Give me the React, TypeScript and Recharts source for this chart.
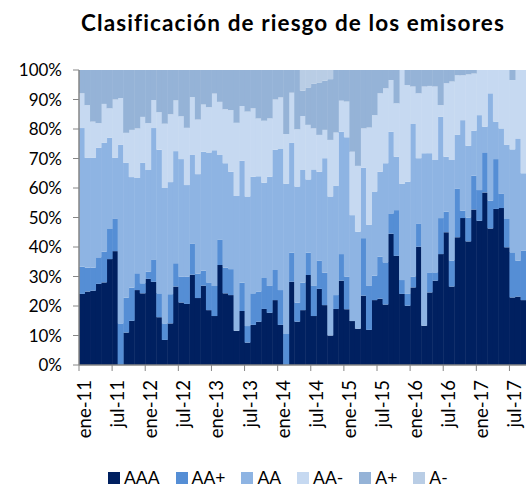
import { BarChart, Bar, XAxis, YAxis } from 'recharts'

const meses = ['ene', 'feb', 'mar', 'abr', 'may', 'jun', 'jul', 'ago', 'sep', 'oct', 'nov', 'dic']
const anios = ['11', '12', '13', '14', '15', '16', '17']
const fechas = anios.flatMap((a) => meses.map((m) => `${m}-${a}`)).slice(0, 81)

// participación (%) de cada calificación, mes a mes desde ene-11
const aaa = [
  24.1, 24.9, 25.2, 27.5, 28.0, 35.9, 38.6, 0, 11.0, 15.0, 25.4, 24.3,
  29.2, 28.2, 16.2, 8.5, 14.1, 26.6, 21.2, 20.7, 30.6, 22.7, 26.9, 18.6,
  16.6, 33.9, 24.3, 23.7, 11.6, 18.3, 7.6, 13.6, 14.7, 19.0, 17.7, 22.0,
  13.6, 0, 28.2, 14.7, 18.6, 30.5, 16.6, 25.8, 20.3, 10.0, 19.0, 28.6,
  18.9, 14.9, 12.3, 23.5, 11.9, 22.0, 22.5, 20.5, 44.5, 37.0, 24.1, 20.1,
  26.3, 40.1, 13.3, 24.6, 28.6, 37.6, 45.0, 26.6, 43.3, 49.8, 41.9, 52.7,
  48.9, 58.5, 46.3, 52.9, 53.2, 39.9, 22.9, 23.2, 22.0,
]
const aaPlus = [
  9.2, 8.1, 7.8, 9.0, 10.4, 10.2, 11.1, 14.1, 11.8, 11.2, 5.7, 3.4,
  2.4, 7.6, 8.1, 5.6, 9.9, 7.9, 8.7, 9.2, 10.6, 8.3, 5.1, 9.4,
  10.2, 8.5, 8.7, 8.8, 0, 9.6, 5.6, 10.7, 10.2, 10.5, 9.1, 10.2,
  11.8, 10.5, 9.9, 6.4, 9.3, 7.6, 10.2, 9.5, 11.0, 0, 4.7, 9.0,
  11.1, 0, 0, 19.5, 14.9, 8.3, 14.2, 14.3, 6.9, 15.5, 4.7, 4.0,
  3.7, 7.9, 0, 6.8, 2.8, 12.2, 7.0, 8.8, 16.4, 2.5, 8.1, 11.5,
  10.4, 13.6, 9.4, 16.9, 4.8, 9.6, 15.3, 12.2, 16.8,
]
const aa = [
  47.0, 37.2, 37.2, 37.1, 36.9, 30.9, 20.5, 60.5, 45.7, 37.5, 32.3, 40.8,
  34.5, 44.5, 48.7, 45.9, 38.0, 38.0, 39.9, 31.1, 30.0, 33.7, 40.3, 44.0,
  46.0, 28.8, 35.4, 33.0, 45.7, 41.3, 43.9, 39.5, 39.1, 32.3, 37.0, 40.8,
  48.0, 50.9, 37.3, 39.4, 38.2, 24.8, 39.5, 30.2, 38.8, 47.1, 37.0, 41.5,
  47.2, 35.9, 32.9, 23.9, 20.7, 28.5, 28.8, 33.6, 27.7, 18.1, 32.6, 38.0,
  51.7, 22.1, 58.5, 40.4, 38.1, 34.4, 18.6, 34.1, 18.3, 30.7, 24.3, 15.2,
  25.4, 8.7, 36.4, 12.7, 22.2, 25.1, 34.9, 41.4, 26.2,
]
const aaMinus = [
  11.8, 17.9, 12.3, 8.4, 13.2, 10.0, 19.8, 15.9, 10.2, 16.0, 16.8, 15.6,
  15.9, 9.5, 12.7, 21.8, 23.0, 17.2, 14.5, 19.4, 19.6, 18.5, 16.0, 15.4,
  19.2, 18.0, 18.3, 20.9, 24.8, 18.6, 28.8, 23.2, 19.6, 21.0, 19.8, 17.0,
  17.3, 16.9, 16.9, 19.4, 18.3, 18.5, 13.9, 12.5, 9.6, 19.2, 18.1, 10.5,
  12.1, 21.5, 22.3, 13.3, 33.0, 25.9, 26.6, 25.4, 17.5, 18.1, 38.6, 32.8,
  12.7, 22.0, 22.6, 22.8, 24.9, 3.9, 24.9, 26.6, 20.2, 15.2, 24.2, 19.4,
  15.3, 19.2, 7.9, 17.5, 19.8, 25.4, 23.5, 23.2, 35.0,
]
const aPlus = [
  7.9, 11.9, 17.5, 18.0, 11.5, 13.0, 10.0, 9.5, 21.3, 20.3, 19.8, 15.9,
  18.0, 10.2, 14.3, 18.2, 15.0, 10.3, 15.7, 19.6, 9.2, 16.8, 11.7, 12.6,
  8.0, 10.8, 13.3, 13.6, 17.9, 12.2, 14.1, 13.0, 16.4, 17.2, 16.4, 10.0,
  9.3, 21.7, 7.7, 20.1, 8.6, 12.7, 15.1, 17.8, 16.7, 20.6, 21.2, 10.4,
  10.7, 27.7, 32.5, 19.8, 19.5, 15.3, 7.9, 6.2, 3.4, 11.3, 0, 5.1,
  5.6, 7.9, 5.6, 5.4, 5.6, 11.9, 4.5, 3.9, 1.8, 1.8, 1.5, 1.2,
  0, 0, 0, 0, 0, 0, 3.4, 0, 0,
]
const aMinus = [
  0, 0, 0, 0, 0, 0, 0, 0, 0, 0, 0, 0,
  0, 0, 0, 0, 0, 0, 0, 0, 0, 0, 0, 0,
  0, 0, 0, 0, 0, 0, 0, 0, 0, 0, 0, 0,
  0, 0, 0, 0, 7.0, 5.9, 4.7, 4.2, 3.6, 3.1, 0, 0,
  0, 0, 0, 0, 0, 0, 0, 0, 0, 0, 0, 0,
  0, 0, 0, 0, 0, 0, 0, 0, 0, 0, 0, 0,
  0, 0, 0, 0, 0, 0, 0, 0, 0,
]

const series = [
  { key: 'AAA', color: '#002060', values: aaa },
  { key: 'AA+', color: '#558ED5', values: aaPlus },
  { key: 'AA', color: '#8EB4E3', values: aa },
  { key: 'AA-', color: '#C6D9F1', values: aaMinus },
  { key: 'A+', color: '#95B3D7', values: aPlus },
  { key: 'A-', color: '#B9CDE5', values: aMinus },
]

const data = fechas.map((fecha, i) => {
  const row: Record<string, string | number> = { fecha }
  series.forEach((s) => (row[s.key] = s.values[i]))
  return row
})

const W = 526
const H = 487
const PLOT_LEFT = 79
const BAND = (W - PLOT_LEFT) / fechas.length
const AXIS = '#868686'

function FechaTick({ x, y, payload }: any) {
  const tx = x - BAND / 2
  const ty = y + 9
  return (
    <g>
      <line x1={tx} x2={tx} y1={y - 6} y2={y} stroke={AXIS} />
      <text x={tx} y={ty} dy={12} transform={`rotate(-90 ${tx} ${ty})`} textAnchor="end" fill="#000" fontSize={18.5}>
        {payload.value}
      </text>
    </g>
  )
}

export default function App() {
  return (
    <div style={{ position: 'absolute', left: 0, top: 0, width: W, height: H, overflow: 'hidden', background: '#fff', fontFamily: 'Lato, sans-serif' }}>
      <div style={{ position: 'absolute', left: 0, width: 586, top: 9, lineHeight: '28px', textAlign: 'center', fontWeight: 700, fontSize: 22.5, letterSpacing: 1.1 }}>
        Clasificación de riesgo de los emisores
      </div>
      <BarChart width={W} height={H} data={data} margin={{ top: 70, right: 0, bottom: 32, left: 0 }} barCategoryGap={0} barGap={0}>
        <XAxis dataKey="fecha" interval={5} height={90} tickLine={false} tickSize={6} tickMargin={0} axisLine={{ stroke: AXIS, strokeWidth: 1.5 }} tick={<FechaTick />} />
        <YAxis
          width={PLOT_LEFT}
          domain={[0, 100]}
          allowDataOverflow
          ticks={[0, 10, 20, 30, 40, 50, 60, 70, 80, 90, 100]}
          tickFormatter={(v) => `${v}%`}
          tickSize={6}
          tickMargin={11}
          axisLine={{ stroke: AXIS, strokeWidth: 1.5 }}
          tickLine={{ stroke: AXIS }}
          tick={{ fill: '#000', fontSize: 17 }}
        />
        {series.map((s) => (
          <Bar key={s.key} dataKey={s.key} stackId="r" fill={s.color} isAnimationActive={false} />
        ))}
      </BarChart>
      <div style={{ position: 'absolute', top: 469, left: 108, height: 18, display: 'flex', gap: 16, fontSize: 17.5, lineHeight: '18px' }}>
        {series.map((s) => (
          <div key={s.key} style={{ display: 'flex', alignItems: 'center', gap: 4, whiteSpace: 'nowrap' }}>
            <span style={{ width: 12, height: 12, background: s.color, display: 'inline-block' }} />
            <span>{s.key}</span>
          </div>
        ))}
      </div>
    </div>
  )
}
